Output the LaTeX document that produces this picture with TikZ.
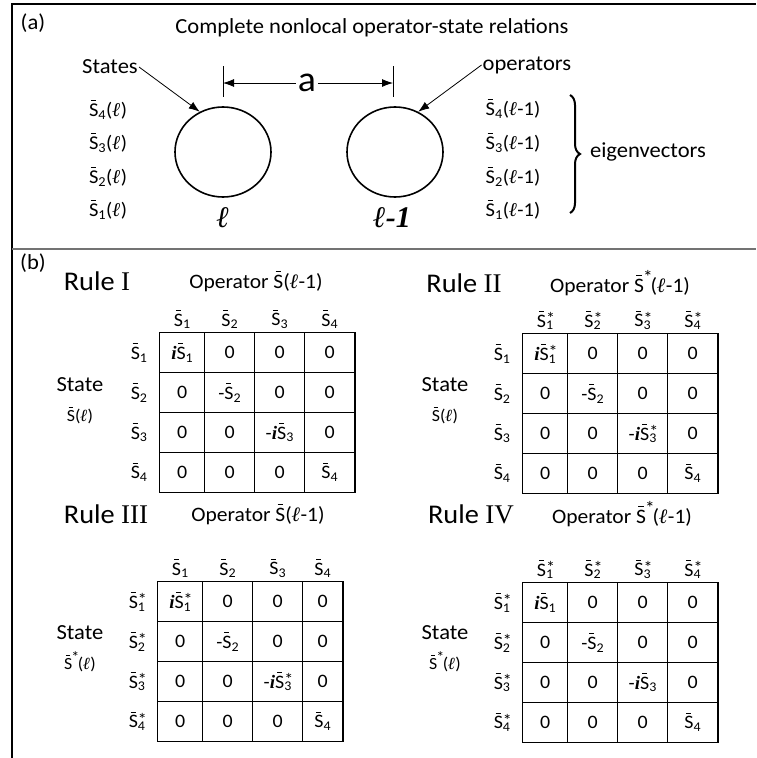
\documentclass[tikz,border=0pt]{standalone}
\usepackage{fontspec}
\setmainfont{Carlito}[FakeStretch=1.05]
\newfontfamily\romfont{Liberation Serif}
\usetikzlibrary{matrix,positioning,arrows.meta,decorations.pathreplacing,shapes.geometric}

\newcommand{\Sbar}{\leavevmode\rlap{\kern0.1em\rule[0.8em]{0.26em}{0.06em}}S}
\newcommand{\Ssub}[1]{\Sbar\textsubscript{#1}}
\newcommand{\Sstar}[1]{\Sbar\rlap{\raisebox{0.15em}{\scalebox{0.9}{*}}}\textsubscript{#1}}
\newcommand{\Sop}{\Sbar\kern-0.05em\raisebox{0.42em}{\scalebox{0.9}{*}}\kern-0.1em}
\newcommand{\ellb}{{\romfont\bfseries\itshape ℓ}}
\newcommand{\ibold}{{\romfont\bfseries\itshape i}}

\begin{document}
\begin{tikzpicture}[x=1pt, y=-1pt,
  txt/.style={font=\fontsize{21.5}{25}\selectfont, inner sep=1pt},
  opl/.style={font=\fontsize{20.5}{24}\selectfont, inner sep=1pt},
  lbl/.style={font=\fontsize{19.5}{23}\selectfont, inner sep=1pt},
  smalllbl/.style={font=\fontsize{17}{20}\selectfont, inner sep=1pt},
  rulelbl/.style={font=\fontsize{27}{32}\selectfont, inner sep=0pt},
  site/.style={ellipse, draw, line width=1.6pt, minimum width=96pt, minimum height=90pt},
  arr/.style={-{Latex[length=11pt,width=8pt]}, line width=0.8pt},
  cell/.style={draw, line width=0.8pt, minimum width=50pt, minimum height=39.8pt, inner sep=0pt, anchor=center, font=\fontsize{19}{22}\selectfont},
  tbl/.style={matrix of nodes, inner sep=0pt, column sep=-0.8pt, row sep=-0.8pt, anchor=north west, nodes={cell},
    row 1/.style={nodes={draw=none, minimum height=28pt}},
    column 1/.style={nodes={draw=none, minimum width=42pt}},
    column 2/.style={nodes={minimum width=45pt}}},
  tblframe/.style={line width=1.6pt},
]
\useasboundingbox (0,0) rectangle (756,758);
% frame
\draw[line width=1.5pt] (12,758) -- (12,4) -- (756,4);
\draw[line width=1.2pt, black!55] (12,249) -- (756,249);

% (a) two sites
\node[txt] (pa) at (33,23) {(a)};
\node[txt] (title) at (372,28) {Complete nonlocal operator-state relations};
\node[site] (siteL) at (223,152) {};
\node[site] (siteR) at (395,152) {};
\node[font=\fontsize{30}{34}\selectfont] (ellL) at (223,218) {\ellb};
\node[font=\fontsize{30}{34}\selectfont] (ellR) at (392,218) {\ellb{\romfont\bfseries\itshape -1}};

\coordinate (tickL) at (223,83);
\coordinate (tickR) at (393,83);
\draw[line width=1pt] (223,66) -- (223,97);
\draw[line width=1pt] (393,66) -- (393,97);
\node[font=\fontsize{36}{40}\selectfont, inner sep=2pt] (adim) at (307,83) {a};
\draw[arr] (adim) -- (tickL);
\draw[arr] (adim) -- (tickR);

\node[txt] (states) at (110,67) {States};
\draw[arr] (states.east) -- (siteL.120);
\node[lbl] (sl4) at (108,110) {\Ssub4(\ellb)};
\node[lbl] (sl3) at (108,143) {\Ssub3(\ellb)};
\node[lbl] (sl2) at (108,177) {\Ssub2(\ellb)};
\node[lbl] (sl1) at (108,210) {\Ssub1(\ellb)};

\node[txt] (ops) at (527,65) {operators};
\draw[arr] (ops.west) -- (siteR.60);
\node[lbl] (op4) at (513,109) {\Ssub4(\ellb-1)};
\node[lbl] (op3) at (513,143) {\Ssub3(\ellb-1)};
\node[lbl] (op2) at (513,177) {\Ssub2(\ellb-1)};
\node[lbl] (op1) at (513,210) {\Ssub1(\ellb-1)};

\coordinate (brtop) at (570,95);
\coordinate (brbot) at (570,213);
\draw[decorate, decoration={brace, amplitude=10pt}, line width=2pt] (brtop) -- (brbot);
\node[txt] (eig) at (648,152) {eigenvectors};

% (b) rules
\node[txt] (pb) at (33,263) {(b)};

% Rule I
\node[rulelbl] (ruleI) at (97,281) {Rule {\romfont I}};
\node[opl] (opI) at (256,281) {Operator \Sbar(\ellb-1)};
\matrix (tabI) [tbl] at (118,305) {
         & \Ssub1       & \Ssub2   & \Ssub3        & \Ssub4 \\
  \Ssub1 & \ibold\Ssub1 & 0        & 0             & 0      \\
  \Ssub2 & 0            & -\Ssub2  & 0             & 0      \\
  \Ssub3 & 0            & 0        & -\ibold\Ssub3 & 0      \\
  \Ssub4 & 0            & 0        & 0             & \Ssub4 \\
};
\draw[tblframe] (tabI-2-2.north west) rectangle (tabI-5-5.south east);
\node[txt] (stI) at (80,385) {State};
\node[smalllbl] (svI) at (80,415) {\Sbar(\ellb)};

% Rule II
\node[rulelbl] (ruleII) at (464,283) {Rule {\romfont II}};
\node[opl] (opII) at (620,283) {Operator \Sop(\ellb-1)};
\matrix (tabII) [tbl] at (481,306) {
         & \Sstar1       & \Sstar2  & \Sstar3        & \Sstar4 \\
  \Ssub1 & \ibold\Sstar1 & 0        & 0              & 0       \\
  \Ssub2 & 0             & -\Ssub2  & 0              & 0       \\
  \Ssub3 & 0             & 0        & -\ibold\Sstar3 & 0       \\
  \Ssub4 & 0             & 0        & 0              & \Ssub4  \\
};
\draw[tblframe] (tabII-2-2.north west) rectangle (tabII-5-5.south east);
\node[txt] (stII) at (445,385) {State};
\node[smalllbl] (svII) at (445,415) {\Sbar(\ellb)};

% Rule III
\node[rulelbl] (ruleIII) at (106,514) {Rule {\romfont III}};
\node[opl] (opIII) at (258,514) {Operator \Sbar(\ellb-1)};
\matrix (tabIII) [tbl, column 5/.style={nodes={minimum width=40pt}}] at (116,554) {
          & \Ssub1        & \Ssub2   & \Ssub3         & \Ssub4 \\
  \Sstar1 & \ibold\Sstar1 & 0        & 0              & 0      \\
  \Sstar2 & 0             & -\Ssub2  & 0              & 0      \\
  \Sstar3 & 0             & 0        & -\ibold\Sstar3 & 0      \\
  \Sstar4 & 0             & 0        & 0              & \Ssub4 \\
};
\draw[tblframe] (tabIII-2-2.north west) rectangle (tabIII-5-5.south east);
\node[txt] (stIII) at (80,633) {State};
\node[smalllbl] (svIII) at (80,662) {\Sop(\ellb)};

% Rule IV
\node[rulelbl] (ruleIV) at (471,514) {Rule {\romfont IV}};
\node[opl] (opIV) at (622,514) {Operator \Sop(\ellb-1)};
\matrix (tabIV) [tbl] at (481,555) {
          & \Sstar1      & \Sstar2  & \Sstar3       & \Sstar4 \\
  \Sstar1 & \ibold\Ssub1 & 0        & 0             & 0       \\
  \Sstar2 & 0            & -\Ssub2  & 0             & 0       \\
  \Sstar3 & 0            & 0        & -\ibold\Ssub3 & 0       \\
  \Sstar4 & 0            & 0        & 0             & \Ssub4  \\
};
\draw[tblframe] (tabIV-2-2.north west) rectangle (tabIV-5-5.south east);
\node[txt] (stIV) at (445,633) {State};
\node[smalllbl] (svIV) at (445,662) {\Sop(\ellb)};
\end{tikzpicture}
\end{document}
